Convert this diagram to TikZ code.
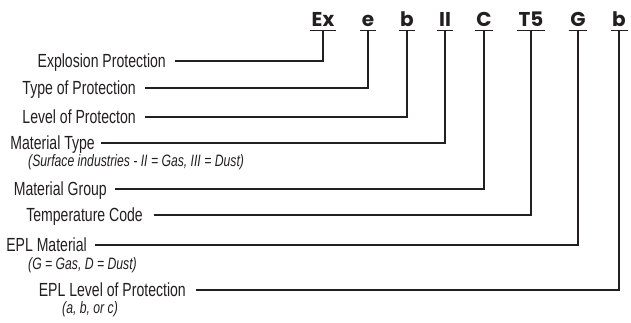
\documentclass[tikz,border=0pt]{standalone}
\usepackage{fontspec}
\setmainfont{Liberation Sans}
\newfontfamily\lblfont[FakeStretch=0.74]{Liberation Sans}
\newfontfamily\codefont{Poppins}
\definecolor{exgray}{RGB}{35,31,32}

\tikzset{
  code/.style={font=\codefont\bfseries\fontsize{20}{20}\selectfont, text=exgray,
    inner xsep=1.5pt, inner ysep=0pt, text height=14pt, text depth=3.5pt, anchor=base},
  lbl/.style={font=\lblfont\fontsize{19}{19}\selectfont, text=exgray,
    inner sep=0pt, text height=13.6pt, text depth=0pt, anchor=east},
  note/.style={font=\lblfont\itshape\fontsize{16.5}{16.5}\selectfont, text=exgray,
    inner sep=0pt, anchor=base west},
  conn/.style={draw=exgray, line width=1.8pt},
  uline/.style={draw=exgray, line width=1.2pt}
}

\begin{document}
\begin{tikzpicture}[x=1pt,y=-1pt]
\useasboundingbox (0,0) rectangle (631,323);

% Marking codes
\node[code] (ex) at (323,27) {Ex};
\node[code] (e) at (368,27) {e};
\node[code] (b) at (407,27) {b};
\node[code] (ii) at (445,27) {II};
\node[code] (c) at (484,27) {C};
\node[code] (t) at (531,27) {T5};
\node[code] (g) at (578,27) {G};
\node[code] (epl) at (619,27) {b};

\foreach \n in {ex,e,b,ii,c,t,g,epl}
  \draw[uline] (\n.south west) -- (\n.south east);

% Labels
\node[lbl] (lblex) at (166,61) {Explosion Protection};
\node[lbl] (lble) at (136,88) {Type of Protection};
\node[lbl] (lblb) at (136,117) {Level of Protecton};
\node[lbl] (lblii) at (95,143) {Material Type};
\node[note] (noteii) at (28,167) {(Surface industries - II = Gas, III = Dust)};
\node[lbl] (lblc) at (107,189) {Material Group};
\node[lbl] (lblt) at (143,215) {Temperature Code};
\node[lbl] (lblg) at (87,245) {EPL Material};
\node[note] (noteg) at (28,269) {(G = Gas, D = Dust)};
\node[lbl] (lblepl) at (186,290) {EPL Level of Protection};
\node[note] (noteepl) at (62,313) {(a, b, or c)};

% Connectors
\draw[conn] (ex.south) |- ([xshift=9pt]lblex.east);
\draw[conn] (e.south) |- ([xshift=9pt]lble.east);
\draw[conn] (b.south) |- ([xshift=9pt]lblb.east);
\draw[conn] (ii.south) |- ([xshift=6pt]lblii.east);
\draw[conn] (c.south) |- ([xshift=8pt]lblc.east);
\draw[conn] (t.south) |- ([xshift=11pt]lblt.east);
\draw[conn] (g.south) |- ([xshift=8pt]lblg.east);
\draw[conn] (epl.south) |- ([xshift=10pt]lblepl.east);
\end{tikzpicture}
\end{document}
